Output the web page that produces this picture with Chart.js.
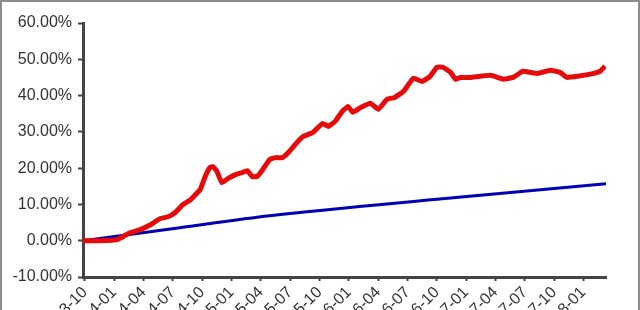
<!DOCTYPE html>
<html>
<head>
<meta charset="utf-8">
<script src="https://cdn.jsdelivr.net/npm/chart.js@4/dist/chart.umd.min.js"></script>
<style>
  body { margin: 0; background: #fff; }
  #wrap { position: relative; width: 640px; height: 310px; overflow: hidden; }
  #frame { position: absolute; left: 0; top: 0; width: 636px; height: 310px; border: 2px solid #8c8c8c; border-bottom: none; pointer-events: none; }
  canvas { position: absolute; left: 0; top: 0; }
</style>
</head>
<body>
<div id="wrap">
  <canvas id="myChart" width="640" height="335"></canvas>
  <div id="frame"></div>
</div>
<script>
// quarterly tick labels, positions in months from first tick
const tickMonths = [0, 3, 6, 9, 12, 15, 18, 21, 24, 27, 30, 33, 36, 39, 42, 45, 48, 51];
const tickLabels = ["2013-10", "2014-01", "2014-04", "2014-07", "2014-10", "2015-01", "2015-04", "2015-07",
    "2015-10", "2016-01", "2016-04", "2016-07", "2016-10", "2017-01", "2017-04", "2017-07", "2017-10", "2018-01"];

// strategy cumulative return (%)
const redMonths = [-0.2, 1.5, 3.3, 4.6, 5.6, 6.7, 7.7, 8.5, 9.2, 10.0, 10.8, 11.3, 11.8, 12.3, 12.8, 13.1, 13.5,
    14.0, 14.6, 15.4, 16.1, 16.6, 17.1, 17.6, 18.1, 18.9, 19.5, 20.2, 20.8, 21.7, 22.3, 23.3, 24.3, 24.9, 25.6,
    26.3, 26.9, 27.4, 28.2, 29.2, 30.0, 30.9, 31.7, 32.6, 33.6, 34.5, 35.3, 36.0, 36.6, 37.4, 37.9, 38.4, 39.4,
    41.5, 42.8, 43.8, 44.8, 46.3, 47.6, 48.6, 49.3, 50.4, 51.7, 52.7, 53.2];
const redValues = [0.0, 0.0, 0.3, 2.2, 3.0, 4.4, 6.1, 6.6, 7.7, 9.9, 11.3, 12.7, 14.1, 17.7, 20.2, 20.4, 19.1,
    16.0, 17.1, 18.2, 18.8, 19.3, 17.7, 17.7, 19.3, 22.4, 22.9, 22.9, 24.3, 27.1, 28.7, 29.8, 32.3, 31.5, 32.9,
    35.6, 37.0, 35.4, 36.7, 37.9, 36.2, 39.0, 39.5, 41.2, 44.8, 43.9, 45.3, 47.8, 47.8, 46.4, 44.5, 45.0, 45.0,
    45.6, 44.5, 45.0, 46.7, 46.1, 47.0, 46.4, 45.0, 45.3, 45.9, 46.7, 48.1];

// benchmark cumulative return (%)
const blueMonths = [-0.2, 9.7, 18.9, 36.0, 53.3];
const blueValues = [0.0, 3.6, 6.9, 11.4, 15.7];

const yTicks = [-10, 0, 10, 20, 30, 40, 50, 60];

function toPoints(xs, ys) {
    return xs.map((x, i) => ({x: x, y: ys[i]}));
}

const ctx = document.getElementById('myChart').getContext('2d');
const chart = new Chart(ctx, {
    type: 'line',
    data: {
        datasets: [{
            data: toPoints(redMonths, redValues),
            borderColor: '#e60a0a',
            borderWidth: 5,
            pointRadius: 0,
            tension: 0.1
        }, {
            data: toPoints(blueMonths, blueValues),
            borderColor: '#0000b4',
            borderWidth: 3,
            pointRadius: 0,
            tension: 0.3
        }]
    },
    options: {
        responsive: false,
        animation: false,
        layout: {padding: {left: 0, right: 34, top: 23, bottom: 0}},
        scales: {
            x: {
                type: 'linear',
                min: -0.2,
                max: 53.3,
                afterBuildTicks: (scale) => {
                    scale.ticks = tickMonths.map(v => ({value: v}));
                },
                afterFit: (scale) => { scale.height = 58; },
                grid: {drawOnChartArea: false, drawTicks: true, tickLength: 4, tickWidth: 2, color: '#444'},
                border: {color: '#444', width: 3},
                ticks: {
                    autoSkip: false,
                    minRotation: 45,
                    maxRotation: 45,
                    padding: 2,
                    color: '#333',
                    font: {family: 'Liberation Sans', size: 16},
                    callback: (value) => tickLabels[tickMonths.indexOf(value)]
                }
            },
            y: {
                min: -10,
                max: 60,
                afterBuildTicks: (scale) => {
                    scale.ticks = yTicks.map(v => ({value: v}));
                },
                afterFit: (scale) => { scale.width = 83; },
                grid: {drawOnChartArea: false, drawTicks: true, tickLength: 5, tickWidth: 2, color: '#444'},
                border: {color: '#444', width: 3},
                ticks: {
                    padding: 6,
                    color: '#333',
                    font: {family: 'Liberation Sans', size: 16},
                    callback: (value) => value.toFixed(2) + '%'
                }
            }
        },
        plugins: {
            legend: {display: false},
            tooltip: {enabled: false}
        }
    }
});
</script>
</body>
</html>
